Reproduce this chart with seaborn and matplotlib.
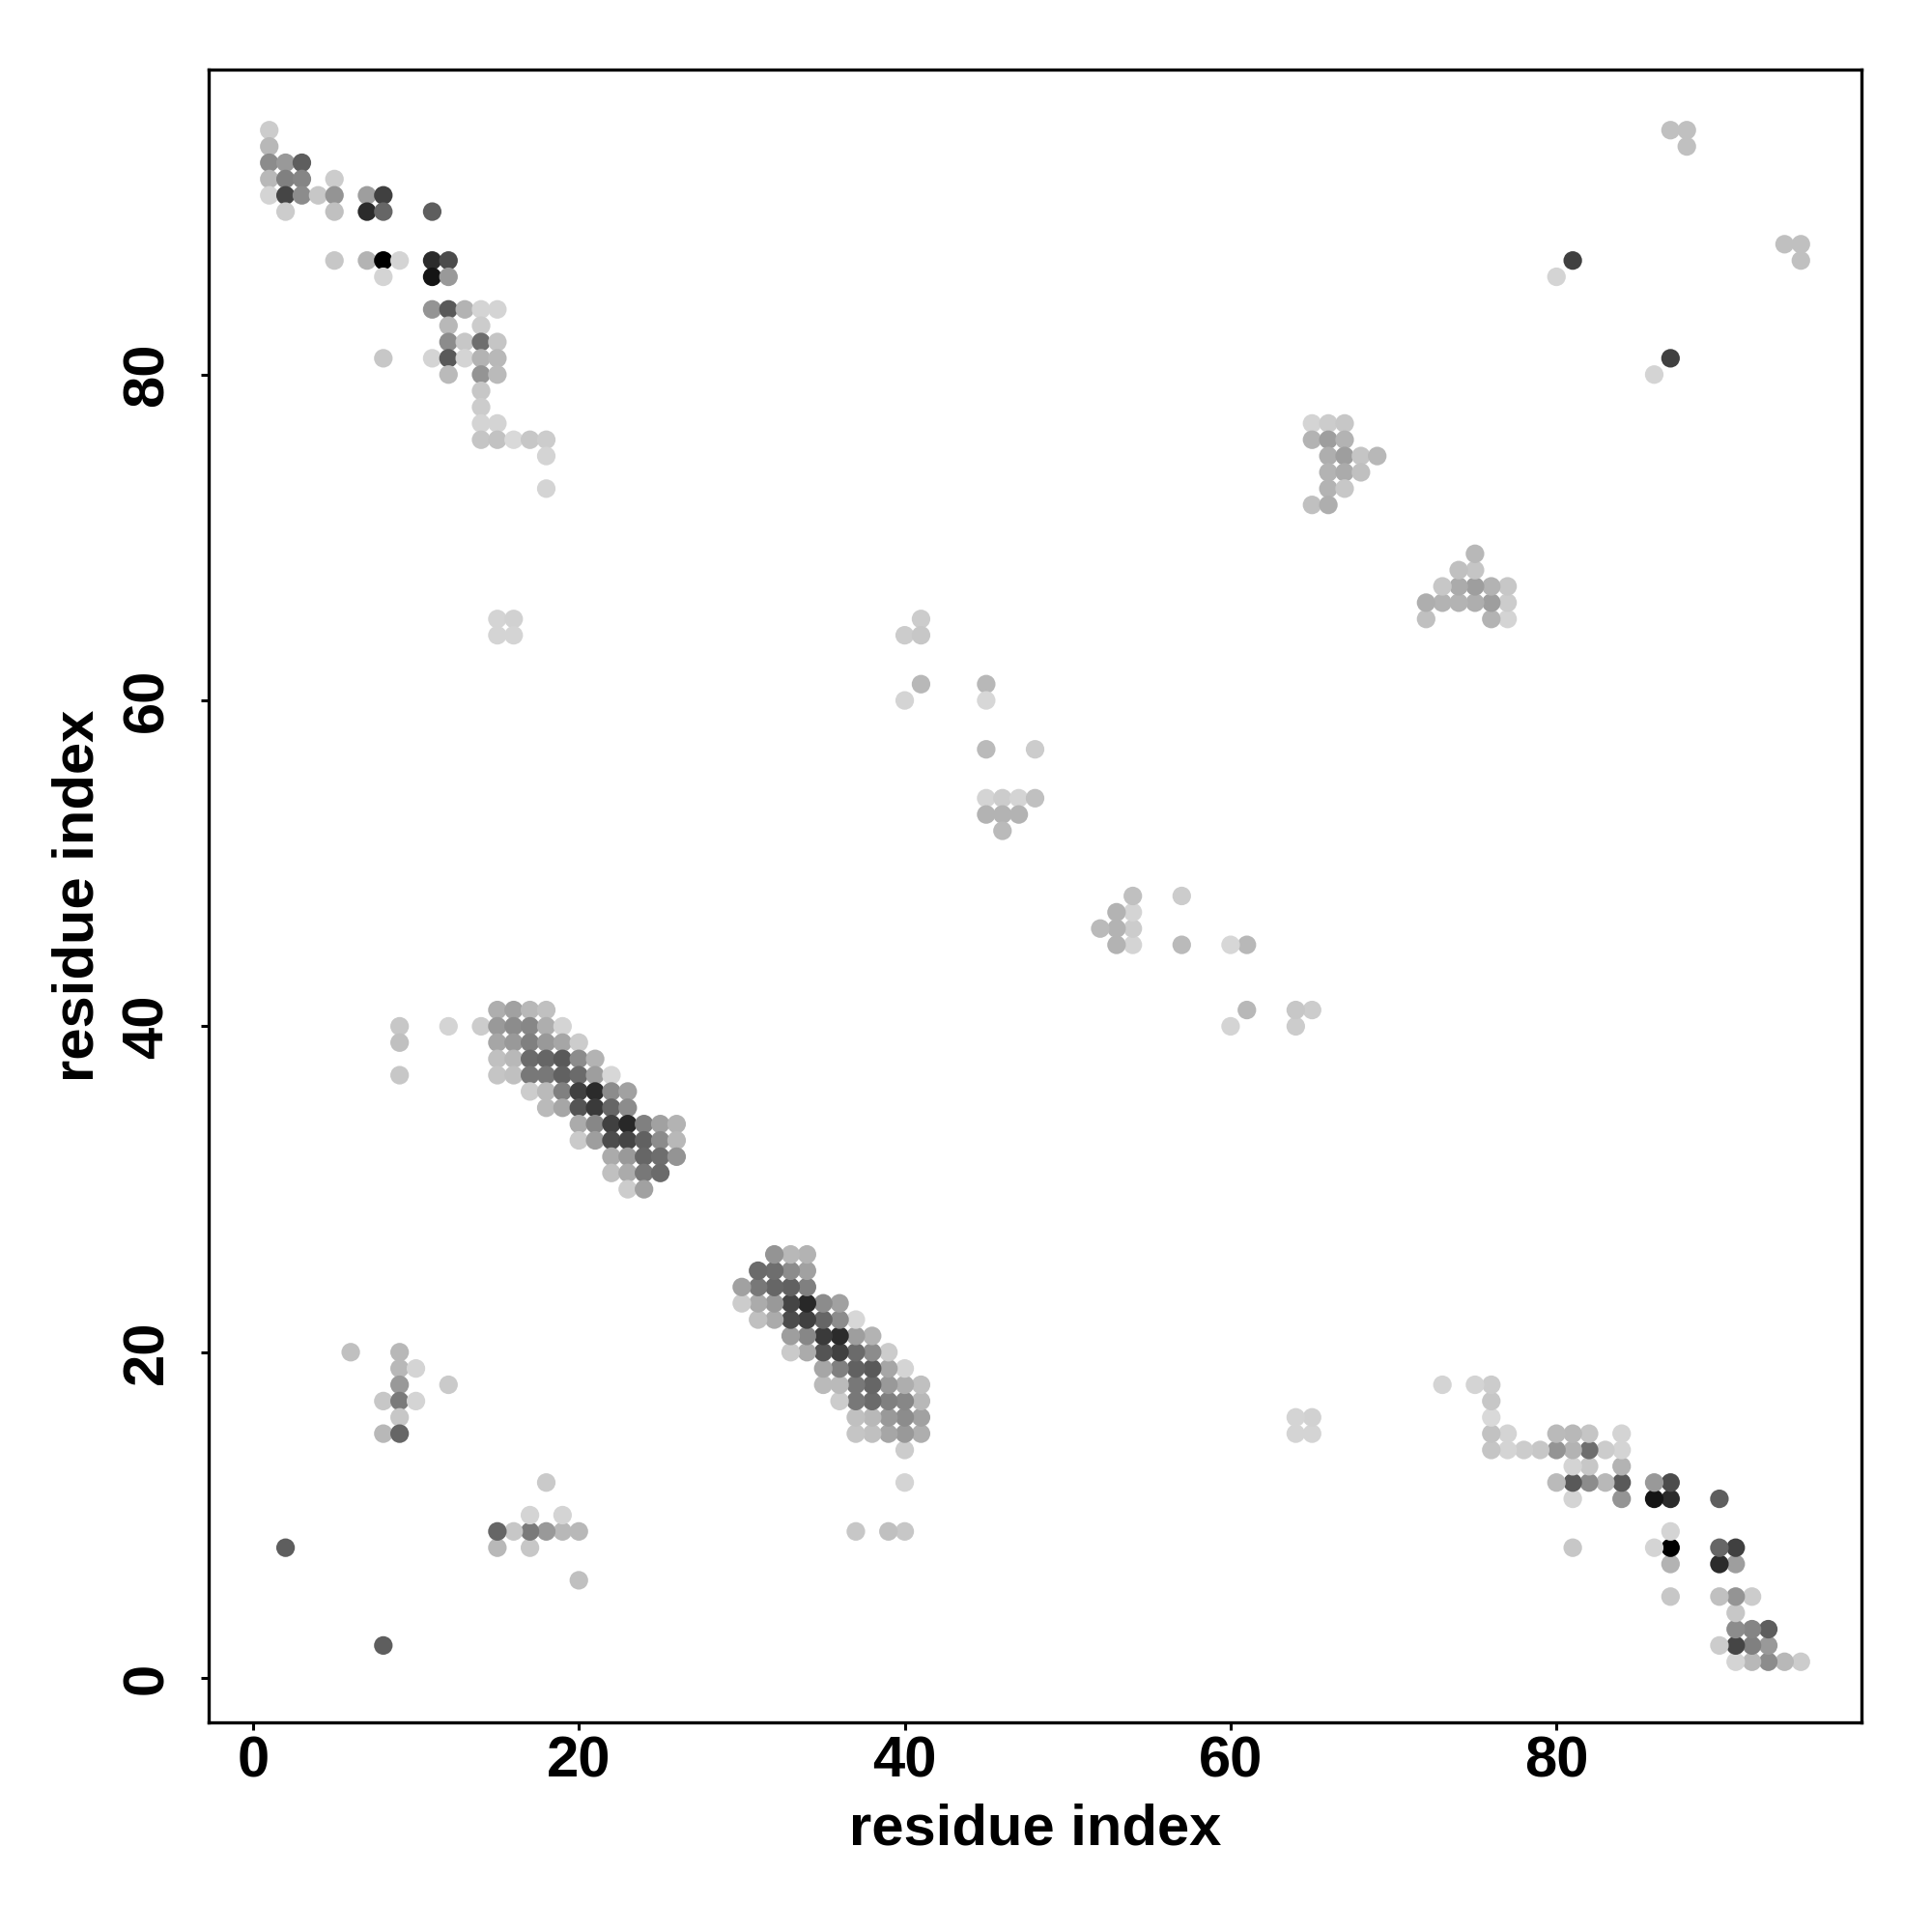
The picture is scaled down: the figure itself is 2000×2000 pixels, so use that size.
import matplotlib
matplotlib.use("Agg")
import matplotlib.pyplot as plt
import pandas as pd
import seaborn as sns

# Upper triangle of the symmetric contact map: residue_i < residue_j.
residue_i = [
    1, 1,
    1, 2, 3,
    1, 2, 3, 5,
    1, 2, 3, 4, 5, 7, 8,
    2, 5, 7, 8, 11,
    5, 7, 8, 9, 11, 12,
    8, 11, 12,
    11, 12, 13, 14, 15,
    12, 14,
    12, 13, 14, 15,
    8, 11, 12, 13, 14, 15,
    12, 14, 15,
    14, 14, 14, 15,
    14, 15, 16, 17, 18,
    18, 18,
    15, 16, 15, 16,
    9, 9, 9, 12,
    15, 16, 17, 18,
    14, 15, 16, 17, 18, 19,
    15, 16, 17, 18, 19, 20,
    15, 16, 17, 18, 19, 20, 21,
    15, 16, 17, 18, 19, 20, 21, 22,
    17, 18, 19, 20, 21, 22, 23,
    18, 19, 20, 21, 22, 23,
    20, 21, 22, 23, 24, 25, 26,
    20, 21, 22, 23, 24, 25, 26,
    22, 23, 24, 25, 26,
    22, 23, 24, 25,
    23, 24,
    6, 9, 9, 10, 9, 12, 8, 9, 10, 9, 8, 9,
    2,
    41, 40, 41, 41, 40, 45, 45, 45, 48,
    45, 46, 47, 48, 45, 46, 47, 46,
    65, 66, 67, 65, 66, 67,
    66, 67, 68, 69, 66, 67, 68, 66, 67, 65, 66,
    87, 88, 88, 81, 80,
]
residue_j = [
    95, 94,
    93, 93, 93,
    92, 92, 92, 92,
    91, 91, 91, 91, 91, 91, 91,
    90, 90, 90, 90, 90,
    87, 87, 87, 87, 87, 87,
    86, 86, 86,
    84, 84, 84, 84, 84,
    83, 83,
    82, 82, 82, 82,
    81, 81, 81, 81, 81, 81,
    80, 80, 80,
    79, 78, 77, 77,
    76, 76, 76, 76, 76,
    75, 73,
    65, 65, 64, 64,
    40, 39, 37, 40,
    41, 41, 41, 41,
    40, 40, 40, 40, 40, 40,
    39, 39, 39, 39, 39, 39,
    38, 38, 38, 38, 38, 38, 38,
    37, 37, 37, 37, 37, 37, 37, 37,
    36, 36, 36, 36, 36, 36, 36,
    35, 35, 35, 35, 35, 35,
    34, 34, 34, 34, 34, 34, 34,
    33, 33, 33, 33, 33, 33, 33,
    32, 32, 32, 32, 32,
    31, 31, 31, 31,
    30, 30,
    20, 20, 19, 19, 18, 18, 17, 17, 17, 16, 15, 15,
    8,
    65, 64, 64, 61, 60, 61, 60, 57, 57,
    54, 54, 54, 54, 53, 53, 53, 52,
    77, 77, 77, 76, 76, 76,
    75, 75, 75, 75, 74, 74, 74, 73, 73, 72, 72,
    95, 95, 94, 87, 86,
]
shade = [
    .80, .72,
    .55, .60, .37,
    .72, .50, .52, .80,
    .83, .27, .55, .78, .58, .62, .25,
    .80, .75, .17, .40, .37,
    .78, .70, .00, .83, .17, .30,
    .83, .08, .60,
    .58, .35, .70, .83, .83,
    .72, .80,
    .55, .78, .43, .77,
    .78, .83, .35, .83, .70, .72,
    .73, .58, .73,
    .78, .80, .83, .83,
    .77, .76, .85, .78, .80,
    .83, .83,
    .83, .82, .83, .83,
    .78, .75, .78, .83,
    .68, .63, .72, .75,
    .80, .60, .55, .53, .68, .83,
    .65, .60, .50, .60, .65, .80,
    .75, .72, .42, .40, .35, .55, .70,
    .77, .75, .47, .47, .38, .42, .62, .84,
    .80, .73, .50, .25, .17, .55, .63,
    .73, .65, .33, .23, .40, .55,
    .67, .53, .25, .16, .50, .63, .70,
    .79, .62, .30, .27, .38, .55, .72,
    .67, .60, .40, .43, .58,
    .75, .67, .47, .42,
    .80, .63,
    .75, .72, .72, .83, .60, .79, .78, .48, .83, .78, .72, .40,
    .37,
    .80, .80, .78, .72, .83, .72, .84, .73, .80,
    .83, .80, .83, .75, .70, .70, .70, .73,
    .83, .80, .78, .70, .62, .70,
    .68, .62, .77, .72, .70, .67, .75, .70, .78, .75, .68,
    .75, .75, .75, .25, .83,
]
tick_values = [0, 20, 40, 60, 80]
axis_label = "residue index"

half = pd.DataFrame({"i": residue_i, "j": residue_j, "shade": shade})
contacts = pd.concat([half, half.rename(columns={"i": "j", "j": "i"})], ignore_index=True)

sns.set_theme(style="white")
plt.rcParams["font.family"] = ["Liberation Sans", "DejaVu Sans"]

fig = plt.figure(figsize=(10, 10), dpi=200)
ax = fig.add_axes([216 / 2000, 1 - 1783 / 2000, (1927 - 216) / 2000, (1783 - 72) / 2000])
sns.scatterplot(
    data=contacts, x="i", y="j", hue="shade", palette="gray", hue_norm=(0, 1),
    s=48, linewidth=0, legend=False, ax=ax,
)
ax.set_xlim(-2.72, 98.72)
ax.set_ylim(-2.72, 98.72)
ax.set_xticks(tick_values)
ax.set_yticks(tick_values)
ax.tick_params(axis="x", length=3.0, width=1.1, color="black", bottom=True, pad=2)
ax.tick_params(axis="y", length=3.0, width=1.1, color="black", left=True, pad=9.8)
for lab in ax.get_xticklabels():
    lab.set(fontsize=21.5, fontweight="bold", color="black")
for lab in ax.get_yticklabels():
    lab.set(fontsize=21.5, fontweight="bold", color="black", rotation=90, va="center")
ax.set_xlabel(axis_label, fontsize=21.5, fontweight="bold", color="black", labelpad=5.3)
ax.set_ylabel(axis_label, fontsize=21.5, fontweight="bold", color="black", labelpad=6.2)
for sp in ax.spines.values():
    sp.set_visible(True)
    sp.set_color("black")
    sp.set_linewidth(1.2)
fig.savefig("out.png", dpi=200, facecolor="white")
